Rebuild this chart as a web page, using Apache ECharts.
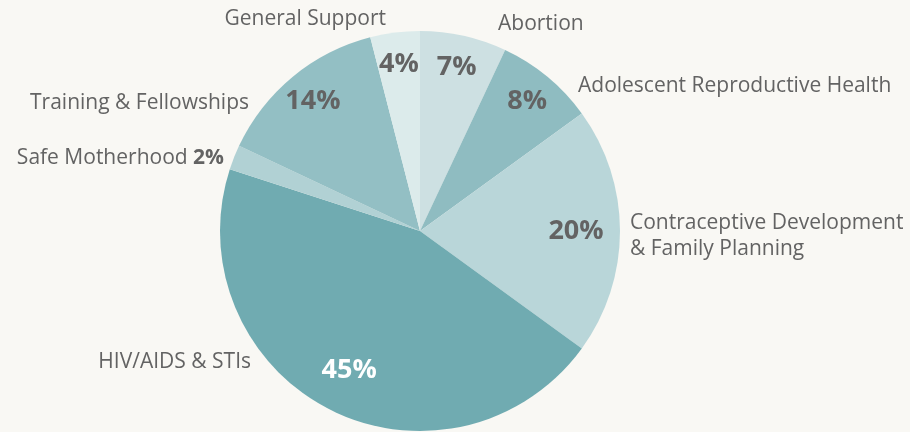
<!DOCTYPE html>
<html>
<head>
<meta charset="utf-8">
<script src="https://cdn.jsdelivr.net/npm/echarts@6/dist/echarts.min.js"></script>
<style>
  html, body { margin: 0; background: #f9f8f4; }
  #chart { width: 910px; height: 432px; }
</style>
</head>
<body>
<div id="chart"></div>
<script>
// data
var categories = ['Abortion', 'Adolescent Reproductive Health', 'Contraceptive Development\n& Family Planning',
  'HIV/AIDS & STIs', 'Safe Motherhood', 'Training & Fellowships', 'General Support'];
var shares = [7, 8, 20, 45, 2, 14, 4];

var sliceColors = ['#cde0e2', '#8fbcc1', '#b9d6d9', '#70abb1', '#b1d1d4', '#93bfc4', '#dcebeb'];
// where each name label is anchored: [x, y, align]
var nameAnchors = [[498, 24, 'left'], [578, 86, 'left'], [630, 236, 'left'], [251, 362, 'right'],
  [224, 158, 'right'], [249, 103, 'right'], [386, 19, 'right']];
var bigSlices = [2, 3];   // percent labels drawn a bit closer to the centre
var nameOutside = [4];    // percent goes next to the name instead

var FONT = 'Open Sans';
var grey = '#636363';

var chart = echarts.init(document.getElementById('chart'));

function pctSeries(radius, pick) {
  return {
    type: 'pie', silent: true, center: [420, 231], radius: radius, startAngle: 90,
    itemStyle: { color: 'transparent' },
    label: { position: 'inside', formatter: '{c}%', fontFamily: FONT, fontWeight: 'bold', fontSize: 27, color: grey },
    labelLine: { show: false },
    data: shares.map(function (v, i) {
      return {
        value: v, name: categories[i],
        label: { show: pick(i), color: i === 3 ? '#ffffff' : grey }
      };
    })
  };
}

chart.setOption({
  backgroundColor: '#f9f8f4',
  animation: false,
  series: [
    {
      type: 'pie', center: [420, 231], radius: [0, 200], startAngle: 90,
      silent: true,
      label: {
        show: true, position: 'outside', overflow: 'none', fontFamily: FONT, fontSize: 21, color: grey, lineHeight: 26,
        formatter: function (p) {
          if (nameOutside.indexOf(p.dataIndex) >= 0) return '{n|' + p.name + ' }{b|' + p.value + '%}';
          return p.name;
        },
        rich: {
          n: { fontFamily: FONT, fontSize: 21, color: grey },
          b: { fontFamily: FONT, fontSize: 21, color: grey, fontWeight: 'bold' }
        }
      },
      labelLine: { show: false },
      labelLayout: function (p) {
        var a = nameAnchors[p.dataIndex];
        return { x: a[0], y: a[1], align: a[2], verticalAlign: 'middle' };
      },
      data: shares.map(function (v, i) {
        return { value: v, name: categories[i], itemStyle: { color: sliceColors[i] } };
      })
    },
    pctSeries([130, 200], function (i) { return bigSlices.indexOf(i) < 0 && nameOutside.indexOf(i) < 0; }),
    pctSeries([106, 200], function (i) { return bigSlices.indexOf(i) >= 0; })
  ]
});
</script>
</body>
</html>
